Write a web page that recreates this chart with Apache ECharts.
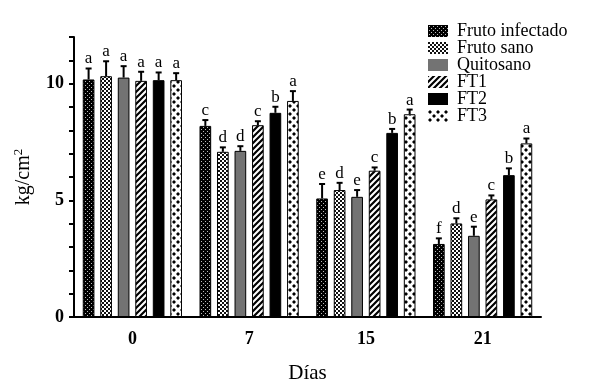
<!DOCTYPE html>
<html>
<head>
<meta charset="utf-8">
<script src="https://cdn.jsdelivr.net/npm/echarts@6/dist/echarts.min.js"></script>
<style>
  html, body { margin: 0; padding: 0; background: #fff; }
  #chart { width: 590px; height: 392px; }
</style>
</head>
<body>
<div id="chart"></div>
<script>
  // datos
  let dias = ['0', '7', '15', '21'];
  let nombres = ['Fruto infectado', 'Fruto sano', 'Quitosano', 'FT1', 'FT2', 'FT3'];

  let frutoInfectado = [10.18, 8.19, 5.08, 3.13];
  let frutoSano = [10.32, 7.08, 5.44, 4.01];
  let quitosano = [10.26, 7.12, 5.15, 3.48];
  let ft1 = [10.12, 8.22, 6.27, 5.04];
  let ft2 = [10.15, 8.75, 7.89, 6.08];
  let ft3 = [10.15, 9.26, 8.69, 7.44];

  let errInfectado = [0.47, 0.25, 0.62, 0.24];
  let errSano = [0.64, 0.19, 0.31, 0.22];
  let errQuitosano = [0.49, 0.20, 0.29, 0.39];
  let errFt1 = [0.39, 0.17, 0.14, 0.17];
  let errFt2 = [0.33, 0.26, 0.17, 0.29];
  let errFt3 = [0.30, 0.42, 0.20, 0.21];

  let letrasInfectado = ['a', 'c', 'e', 'f'];
  let letrasSano = ['a', 'd', 'd', 'd'];
  let letrasQuitosano = ['a', 'd', 'e', 'e'];
  let letrasFt1 = ['a', 'c', 'c', 'c'];
  let letrasFt2 = ['a', 'b', 'b', 'b'];
  let letrasFt3 = ['a', 'a', 'a', 'a'];

  let yTicks = [0, 5, 10];

  let valores = [frutoInfectado, frutoSano, quitosano, ft1, ft2, ft3];
  let errores = [errInfectado, errSano, errQuitosano, errFt1, errFt2, errFt3];
  let letras = [letrasInfectado, letrasSano, letrasQuitosano, letrasFt1, letrasFt2, letrasFt3];

  // tramas de relleno
  function trama(w, h, draw) {
    let c = document.createElement('canvas');
    c.width = w;
    c.height = h;
    let ctx = c.getContext('2d');
    draw(ctx);
    return { image: c, repeat: 'repeat' };
  }

  let puntos = trama(4, 4, function (ctx) {
    ctx.fillStyle = '#000';
    ctx.fillRect(0, 0, 4, 4);
    ctx.fillStyle = '#bbb';
    ctx.fillRect(1, 1, 1, 1);
    ctx.fillRect(3, 3, 1, 1);
  });
  let cuadros = trama(4, 4, function (ctx) {
    ctx.fillStyle = '#fff';
    ctx.fillRect(0, 0, 4, 4);
    ctx.fillStyle = '#111';
    ctx.fillRect(0, 0, 2, 2);
    ctx.fillRect(2, 2, 2, 2);
  });
  let rayas = trama(6, 6, function (ctx) {
    ctx.fillStyle = '#fff';
    ctx.fillRect(0, 0, 6, 6);
    ctx.strokeStyle = '#000';
    ctx.lineWidth = 2.2;
    ctx.beginPath();
    ctx.moveTo(-1, 7); ctx.lineTo(7, -1);
    ctx.moveTo(-4, 4); ctx.lineTo(4, -4);
    ctx.moveTo(2, 10); ctx.lineTo(10, 2);
    ctx.stroke();
  });
  let rombos = trama(8, 8, function (ctx) {
    ctx.fillStyle = '#fff';
    ctx.fillRect(0, 0, 8, 8);
    ctx.fillStyle = '#000';
    [[2, 2], [6, 6]].forEach(function (p) {
      ctx.beginPath();
      ctx.moveTo(p[0], p[1] - 2);
      ctx.lineTo(p[0] + 2, p[1]);
      ctx.lineTo(p[0], p[1] + 2);
      ctx.lineTo(p[0] - 2, p[1]);
      ctx.closePath();
      ctx.fill();
    });
  });
  let colores = [puntos, cuadros, '#737373', rayas, '#000', rombos];

  let fuente = '"Liberation Serif", "Times New Roman", serif';

  let series = [];
  nombres.forEach(function (n, i) {
    series.push({
      name: n,
      type: 'bar',
      barWidth: '10%',
      barGap: '50%',
      data: valores[i],
      itemStyle: { color: colores[i], borderColor: '#000', borderWidth: 1 }
    });
  });

  // barras de error y letras encima
  nombres.forEach(function (n, i) {
    let datos = valores[i].map(function (v, k) { return [k, v, errores[i][k]]; });
    series.push({
      type: 'custom',
      z: 10,
      data: datos,
      encode: { x: 0, y: 1 },
      renderItem: function (params, api) {
        let k = api.value(0);
        let v = api.value(1);
        let e = api.value(2);
        let banda = api.size([1, 0])[0];
        let base = api.coord([k, v]);
        let arriba = api.coord([k, v + e]);
        let x = base[0] + (i - 2.5) * 0.15 * banda;
        return {
          type: 'group',
          children: [
            { type: 'line', shape: { x1: x, y1: base[1], x2: x, y2: arriba[1] }, style: { stroke: '#000', lineWidth: 2 } },
            { type: 'line', shape: { x1: x - 3, y1: arriba[1], x2: x + 3, y2: arriba[1] }, style: { stroke: '#000', lineWidth: 2 } },
            { type: 'text', style: { text: letras[i][k], x: x, y: arriba[1] - 1, textAlign: 'center', textVerticalAlign: 'bottom', fill: '#000', font: '17px ' + fuente } }
          ]
        };
      }
    });
  });

  let myChart = echarts.init(document.getElementById('chart'));
  let option = {
    animation: false,
    backgroundColor: '#fff',
    grid: { left: 74, right: 49, top: 37, bottom: 75 },
    legend: {
      data: nombres,
      orient: 'vertical',
      left: 423,
      top: 17,
      itemWidth: 20,
      itemHeight: 12,
      itemGap: -1,
      icon: 'rect',
      itemStyle: { borderWidth: 0 },
      textStyle: { fontFamily: fuente, fontSize: 18, lineHeight: 16, color: '#000', padding: [0, 0, 0, 4] }
    },
    xAxis: {
      type: 'category',
      data: dias,
      name: 'Días',
      nameLocation: 'middle',
      nameGap: 46,
      nameTextStyle: { fontFamily: fuente, fontSize: 21, color: '#000' },
      axisLine: { lineStyle: { color: '#000', width: 2 } },
      axisTick: { alignWithLabel: true, length: 6, lineStyle: { color: '#000', width: 2 } },
      axisLabel: { margin: 13, fontFamily: fuente, fontSize: 18, fontWeight: 'bold', color: '#000' }
    },
    yAxis: {
      type: 'value',
      min: 0,
      max: 12,
      interval: 1,
      name: '{a|kg/cm}{b|2}',
      nameLocation: 'middle',
      nameGap: 39,
      nameTextStyle: {
        fontFamily: fuente,
        fontSize: 20,
        color: '#000',
        rich: {
          a: { fontFamily: fuente, fontSize: 20, color: '#000' },
          b: { fontFamily: fuente, fontSize: 13, color: '#000', verticalAlign: 'top', padding: [0, 0, 10, 0] }
        }
      },
      splitLine: { show: false },
      axisLine: { show: true, lineStyle: { color: '#000', width: 2 } },
      axisTick: { show: true, length: 5, lineStyle: { color: '#000', width: 2 } },
      axisLabel: {
        margin: 10,
        fontFamily: fuente,
        fontSize: 18,
        fontWeight: 'bold',
        color: '#000',
        formatter: function (v) { return yTicks.indexOf(v) >= 0 ? String(v) : ''; }
      }
    },
    series: series
  };
  myChart.setOption(option);
</script>
</body>
</html>
